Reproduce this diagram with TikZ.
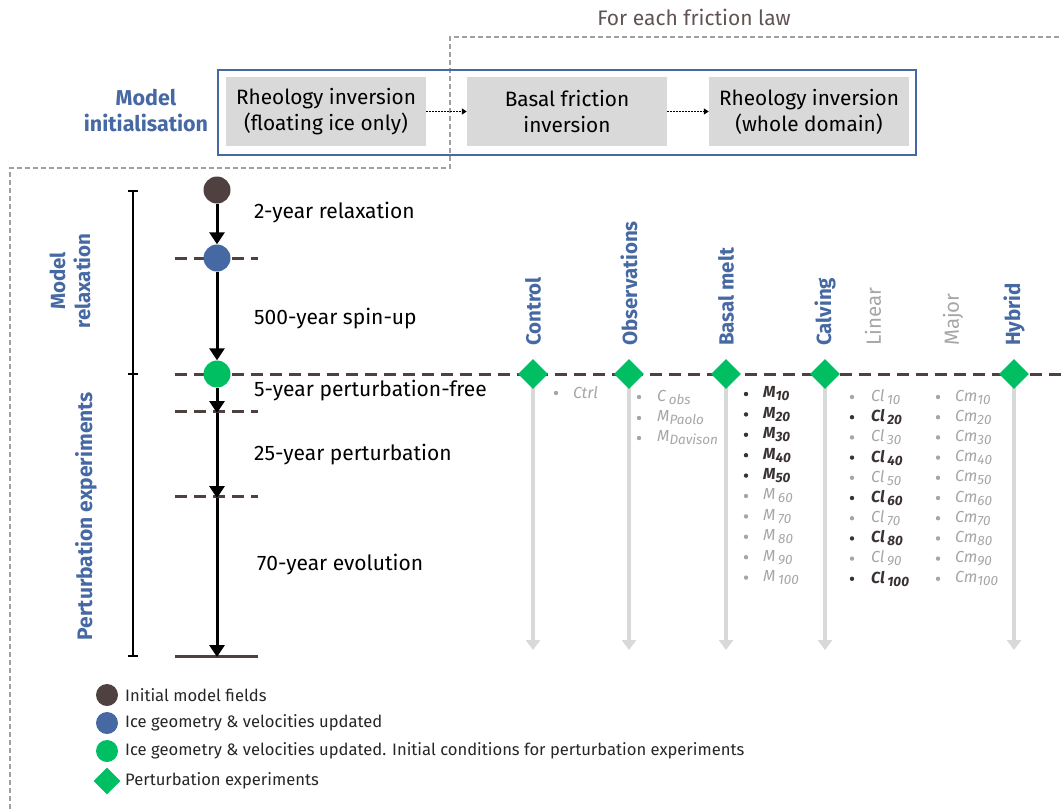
\documentclass[tikz,border=0pt]{standalone}
\usepackage{fontspec}
\setmainfont{Fira Sans}
\usetikzlibrary{arrows.meta,shapes.geometric}
\definecolor{mblue}{HTML}{4669A3}
\definecolor{mbrown}{HTML}{4E4140}
\definecolor{mgreen}{HTML}{00BF63}
\definecolor{mgray}{HTML}{D9D9D9}
\definecolor{tgray}{HTML}{A6A6A6}
\definecolor{tdark}{HTML}{3A3232}
\definecolor{dline}{HTML}{A0A0A0}
\newcommand{\sbs}[1]{\raisebox{-0.35ex}{\fontsize{13.5}{14}\selectfont #1}}
\tikzset{
  stepbox/.style={fill=mgray,minimum width=200pt,minimum height=69pt,inner sep=0pt,align=center,font=\fontsize{20.8}{26}\selectfont},
  dotarrow/.style={line width=1.5pt,dash pattern=on 1.5pt off 1.5pt,-{Triangle[length=5pt,width=6pt]}},
  timearrow/.style={line width=3pt,-{Triangle[length=12pt,width=15pt]}},
  hdash/.style={mbrown,line width=3pt,dash pattern=on 12pt off 7pt},
  dot/.style={circle,minimum size=27pt,inner sep=0pt},
  diam/.style={diamond,fill=mgreen,minimum size=30pt,inner sep=0pt},
  grayarrow/.style={mgray,line width=4pt,-{Triangle[length=10pt,width=14pt]}},
  head/.style={rotate=90,anchor=west,inner sep=0pt,font=\fontsize{20.5}{22}\selectfont\bfseries,text=mblue},
  headg/.style={rotate=90,anchor=west,inner sep=0pt,font=\fontsize{20.5}{22}\selectfont,text=tgray},
  steplabel/.style={anchor=west,inner sep=0pt,font=\fontsize{21}{24}\selectfont},
  li/.style={anchor=west,inner sep=0pt,font=\fontsize{16}{18}\selectfont\itshape,text=tgray},
  ld/.style={anchor=west,inner sep=0pt,font=\fontsize{16}{18}\selectfont\itshape\bfseries,text=tdark},
  legtxt/.style={anchor=west,inner sep=0pt,font=\fontsize{16.6}{18}\selectfont,text=black!85},
}
\begin{document}
\begin{tikzpicture}[x=1pt,y=-1pt]
\useasboundingbox (0,0) rectangle (1062,809);
% title
\node[font=\fontsize{21}{22}\selectfont,text=mbrown!90] (title) at (694,17) {For each friction law};
% gray dashed outline
\draw[dline,line width=1.2pt,dash pattern=on 5pt off 3pt] (10,809) -- (10,168) -- (450,168) -- (450,37) -- (1062,37);
% blue box
\draw[mblue,line width=1.6pt] (218,70) rectangle (916,155);
\node[stepbox] (b1) at (326,111.5) {Rheology inversion\\(floating ice only)};
\node[stepbox] (b2) at (567,111.5) {Basal friction\\inversion};
\node[stepbox] (b3) at (809,111.5) {Rheology inversion\\(whole domain)};
\draw[dotarrow] (b1) -- (b2);
\draw[dotarrow] (b2) -- (b3);
\node[text=mblue,font=\fontsize{21.5}{26}\selectfont\bfseries,align=center] (init) at (146,111) {Model\\initialisation};
% bracket
\draw[line width=1.2pt] (133,191) -- (133,656);
\draw[line width=1.2pt] (128,191) -- (138,191);
\draw[line width=1.2pt] (128,374) -- (138,374);
\draw[line width=1.2pt] (128,656) -- (138,656);
\node[rotate=90,text=mblue,font=\fontsize{20.5}{25}\selectfont\bfseries,align=center] (mr) at (70,281) {Model\\relaxation};
\node[rotate=90,text=mblue,font=\fontsize{21}{24}\selectfont\bfseries] (pe) at (86,516) {Perturbation experiments};
% dashed horizontal lines
\draw[hdash] (175,258) -- (258,258);
\draw[hdash] (175,374) -- (1062,374);
\draw[hdash] (175,411) -- (258,411);
\draw[hdash] (175,496) -- (258,496);
\draw[mbrown,line width=3pt] (175,656) -- (258,656);
% timeline
\node[dot,fill=mbrown] (c1) at (217,190) {};
\node[dot,fill=mblue] (c2) at (217,258) {};
\node[dot,fill=mgreen] (c3) at (217,374) {};
\coordinate (t1) at (217,413);
\coordinate (t2) at (217,498);
\coordinate (t3) at (217,657);
\draw[timearrow] (c1) -- (c2);
\draw[timearrow] (c2) -- (c3);
\draw[timearrow] (c3) -- (t1);
\draw[timearrow] (t1) -- (t2);
\draw[timearrow] (t2) -- (t3);
\node[steplabel] (l1) at (254,213) {2-year relaxation};
\node[steplabel] (l2) at (254,319) {500-year spin-up};
\node[steplabel] (l3) at (254,391) {5-year perturbation-free};
\node[steplabel] (l4) at (254,455) {25-year perturbation};
\node[steplabel] (l5) at (257,565) {70-year evolution};
% columns
\foreach \n/\x in {ctl/533,obs/629,bm/726,cal/825,hyb/1014}{
  \coordinate (\n end) at (\x,650);
  \draw[grayarrow] (\x,380) -- (\n end);
  \node[diam] (\n) at (\x,374) {};
}
\node[head] (hctl) at (533,346) {Control};
\node[head] (hobs) at (629,346) {Observations};
\node[head] (hbm) at (726,346) {Basal melt};
\node[head] (hcal) at (825,346) {Calving};
\node[headg] (hlin) at (873,346) {Linear};
\node[headg] (hmaj) at (953,346) {Major};
\node[head] (hhyb) at (1014,346) {Hybrid};
% control list
\fill[tgray] (556,393) circle (2.2pt);
\node[li] (ctrl) at (573,393) {Ctrl};
% observations list
\foreach \y/\t in {397/{C\,\sbs{obs}},418/{M\sbs{Paolo}},438/{M\sbs{Davison}}}{
  \fill[tgray] (639,\y) circle (2.2pt);
  \node[li] at (657,\y) {\t};
}
% basal melt list
\foreach \i in {1,...,10}{
  \pgfmathsetmacro{\yy}{394+(\i-1)*20.4}
  \pgfmathtruncatemacro{\v}{\i*10}
  \ifnum\i<6
    \fill[tdark] (746,\yy) circle (2.2pt);
    \node[ld] at (763,\yy) {M\sbs{\v}};
  \else
    \fill[tgray] (746,\yy) circle (2.2pt);
    \node[li] at (763,\yy) {M\,\sbs{\v}};
  \fi
}
% calving lists
\foreach \i in {1,...,10}{
  \pgfmathsetmacro{\yy}{397+(\i-1)*20.2}
  \pgfmathtruncatemacro{\v}{\i*10}
  \pgfmathtruncatemacro{\odd}{mod(\i,2)}
  \ifnum\odd=1
    \fill[tgray] (852,\yy) circle (2.2pt);
    \node[li] at (871,\yy) {Cl\,\sbs{\v}};
  \else
    \fill[tdark] (852,\yy) circle (2.2pt);
    \node[ld] at (871,\yy) {Cl\,\sbs{\v}};
  \fi
  \fill[tgray] (938,\yy) circle (2.2pt);
  \node[li] at (955,\yy) {Cm\sbs{\v}};
}
% legend
\node[dot,minimum size=22pt,fill=mbrown] (g1) at (107,695) {};
\node[dot,minimum size=22pt,fill=mblue] (g2) at (107,723) {};
\node[dot,minimum size=22pt,fill=mgreen] (g3) at (107,751) {};
\node[diam,minimum size=27pt] (g4) at (107,781) {};
\node[legtxt] (gt1) at (125,695) {Initial model fields};
\node[legtxt] (gt2) at (125,723) {Ice geometry \& velocities updated};
\node[legtxt] (gt3) at (125,751) {Ice geometry \& velocities updated. Initial conditions for perturbation experiments};
\node[legtxt] (gt4) at (125,781) {Perturbation experiments};
\end{tikzpicture}
\end{document}
